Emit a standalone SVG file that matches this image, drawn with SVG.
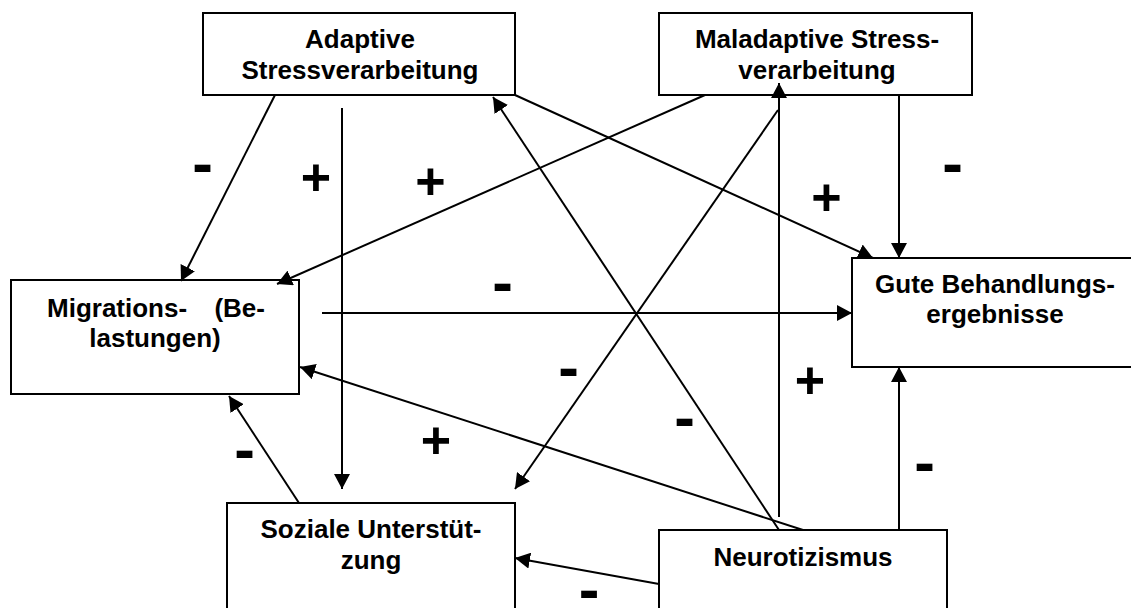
<svg xmlns="http://www.w3.org/2000/svg" width="1131" height="608" viewBox="0 0 1131 608">
  <style>
    .box { fill: #ffffff; stroke: #000000; stroke-width: 2; }
    .lbl { font-family: "Liberation Sans", Arial, Helvetica, sans-serif; font-weight: bold; font-size: 26px; fill: #000000; text-anchor: middle; }
    .edge { stroke: #000000; stroke-width: 2; fill: none; }
    .arrow { marker-end: url(#ah); }
    .plus { font-family: "Liberation Sans", Arial, sans-serif; font-weight: bold; font-size: 52px; text-anchor: middle; fill: #000000; }
    .minus { font-family: "Liberation Sans", Arial, sans-serif; font-weight: bold; font-size: 62px; text-anchor: middle; fill: #000000; }
  </style>
  <defs>
    <marker id="ah" viewBox="0 0 15 16" refX="15" refY="8" markerWidth="15" markerHeight="16" markerUnits="userSpaceOnUse" orient="auto">
      <path d="M0,0 L15,8 L0,16 z" fill="#000000"/>
    </marker>
  </defs>

  <rect width="1131" height="608" fill="#ffffff"/>

  <!-- nodes -->
  <g id="adaptive">
    <rect class="box" x="203" y="13" width="312" height="82"/>
    <text class="lbl" x="360" y="48">Adaptive</text>
    <text class="lbl" x="360" y="79">Stressverarbeitung</text>
  </g>
  <g id="maladaptive">
    <rect class="box" x="659" y="13" width="313" height="82"/>
    <text class="lbl" x="817" y="48">Maladaptive Stress-</text>
    <text class="lbl" x="817" y="79">verarbeitung</text>
  </g>
  <g id="migration">
    <rect class="box" x="11" y="280" width="288" height="114"/>
    <text class="lbl" x="47" y="317" style="text-anchor:start">Migrations-</text>
    <text class="lbl" x="265" y="317" style="text-anchor:end">(Be-</text>
    <text class="lbl" x="155" y="347">lastungen)</text>
  </g>
  <g id="outcome">
    <rect class="box" x="852" y="258" width="290" height="109"/>
    <text class="lbl" x="995" y="293">Gute Behandlungs-</text>
    <text class="lbl" x="995" y="323">ergebnisse</text>
  </g>
  <g id="support">
    <rect class="box" x="227" y="503" width="288" height="115"/>
    <text class="lbl" x="371" y="538">Soziale Unterstüt-</text>
    <text class="lbl" x="371" y="569">zung</text>
  </g>
  <g id="neuroticism">
    <rect class="box" x="659" y="530" width="288" height="90"/>
    <text class="lbl" x="803" y="566">Neurotizismus</text>
  </g>

  <!-- connectors, drawn over the boxes so arrowheads reaching into a box stay visible -->
  <g id="connectors">
    <line class="edge arrow" x1="275" y1="95" x2="181" y2="281"/>
    <line class="edge arrow" x1="342" y1="108" x2="342" y2="489"/>
    <line class="edge arrow" x1="779" y1="530" x2="493" y2="97"/>
    <line class="edge arrow" x1="515" y1="95" x2="873" y2="258"/>
    <line class="edge arrow" x1="705" y1="95" x2="277" y2="284"/>
    <line class="edge arrow" x1="779" y1="517" x2="779" y2="83"/>
    <line class="edge arrow" x1="778" y1="110" x2="515" y2="489"/>
    <line class="edge arrow" x1="899" y1="95" x2="899" y2="258"/>
    <line class="edge arrow" x1="322" y1="313" x2="852" y2="313"/>
    <line class="edge arrow" x1="803" y1="530" x2="300" y2="367"/>
    <line class="edge arrow" x1="299" y1="503" x2="229" y2="396"/>
    <line class="edge arrow" x1="659" y1="584" x2="515" y2="558"/>
    <line class="edge arrow" x1="899" y1="530" x2="899" y2="367"/>
  </g>

  <!-- signs of the effects -->
  <g id="signs">
    <text class="minus" x="202.5" y="183.5">-</text>
    <text class="minus" x="502.5" y="302.5">-</text>
    <text class="minus" x="952.5" y="184">-</text>
    <text class="minus" x="568.5" y="388">-</text>
    <text class="minus" x="684.5" y="438">-</text>
    <text class="minus" x="244.5" y="470">-</text>
    <text class="minus" x="924.5" y="483">-</text>
    <text class="minus" x="589" y="610">-</text>
    <text class="plus" x="316" y="194.5">+</text>
    <text class="plus" x="430.5" y="199">+</text>
    <text class="plus" x="826.5" y="214.5">+</text>
    <text class="plus" x="810" y="398">+</text>
    <text class="plus" x="436" y="457.5">+</text>
  </g>
</svg>
